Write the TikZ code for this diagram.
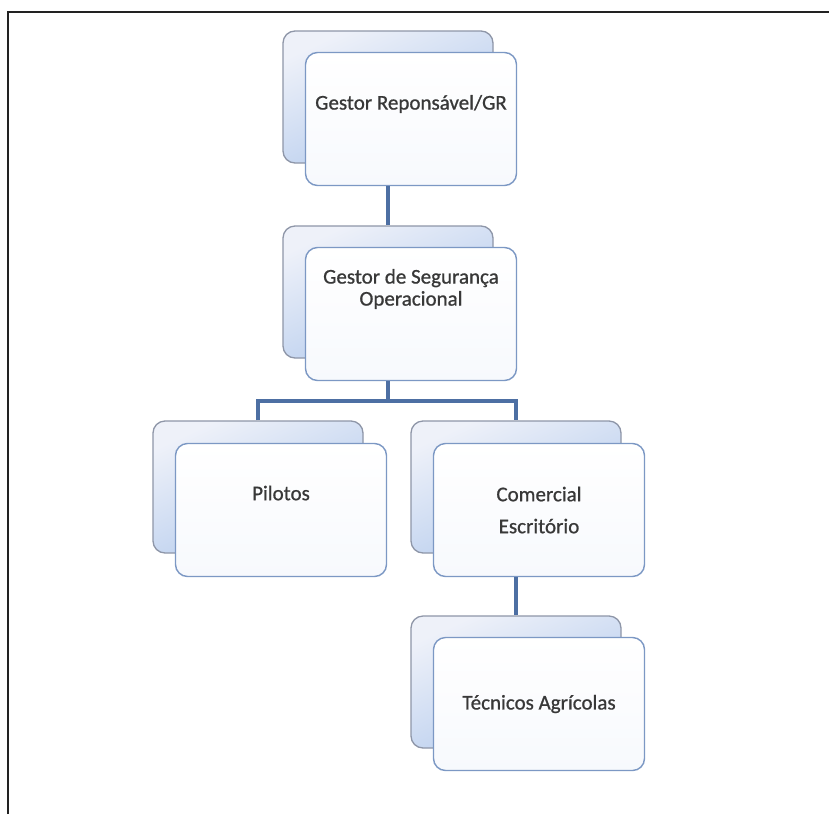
\documentclass[tikz,border=0pt]{standalone}
\usepackage{fontspec}
\setmainfont{Carlito}
\newfontfamily\lblfont[FakeBold=0.8]{Carlito}
\begin{document}
\begin{tikzpicture}[x=1pt,y=-1pt,
  backbox/.style={draw=backline, line width=1.3pt, rounded corners=12pt,
    minimum width=210pt, minimum height=132pt, inner sep=0pt,
    top color=backtop, bottom color=backbot, shading angle=25},
  frontbox/.style={draw=frontline, line width=1.4pt, rounded corners=12pt,
    minimum width=211pt, minimum height=133pt, inner sep=0pt,
    top color=white, bottom color=frontbot},
  lbl/.style={text=txt, font=\lblfont\fontsize{21}{25}\selectfont, align=center, inner sep=0pt},
  conn/.style={draw=connc, line width=3.6pt}]
\definecolor{backline}{HTML}{8E96A8}
\definecolor{backtop}{HTML}{EEF1F9}
\definecolor{backbot}{HTML}{B0C8EC}
\definecolor{frontline}{HTML}{7C98C4}
\definecolor{frontbot}{HTML}{F7F9FD}
\definecolor{txt}{HTML}{383838}
\definecolor{connc}{HTML}{4D6FA3}
\definecolor{framec}{HTML}{222222}
\useasboundingbox (0,0) rectangle (829,814);
\fill[white] (0,0) rectangle (829,814);
% frame
\draw[framec, line width=2pt] (8,814) -- (8,12) -- (829,12);
% back boxes
\node[backbox] (grb) at (388,97) {};
\node[backbox] (gsob) at (388,292) {};
\node[backbox] (pilb) at (258,487) {};
\node[backbox] (comb) at (516,487) {};
\node[backbox] (tecb) at (516,682) {};
% front boxes
\node[frontbox] (gr) at (411,119) {};
\node[frontbox] (gso) at (411,314) {};
\node[frontbox] (pil) at (281,510) {};
\node[frontbox] (com) at (539,510) {};
\node[frontbox] (tec) at (539,704) {};
% texts
\node[lbl] (grt) at ([yshift=15pt]gr.center) {Gestor Reponsável/GR};
\node[lbl, font=\lblfont\fontsize{21}{22}\selectfont] (gsot) at ([yshift=25pt]gso.center) {Gestor de Segurança\\Operacional};
\node[lbl] (pilt) at ([yshift=17pt]pil.center) {Pilotos};
\node[lbl, font=\lblfont\fontsize{21}{32}\selectfont] (comt) at (com.center) {Comercial\\Escritório};
\node[lbl] (tect) at (tec.center) {Técnicos Agrícolas};
% connectors
\coordinate (jn) at (388,401);
\draw[conn] (gr.south -| grb.center) -- (gsob.north);
\draw[conn] (gso.south -| gsob.center) -- (jn);
\draw[conn] (pilb.north) |- (jn) -| (comb.north);
\draw[conn] (com.south -| comb.center) -- (tecb.north);
\end{tikzpicture}
\end{document}
